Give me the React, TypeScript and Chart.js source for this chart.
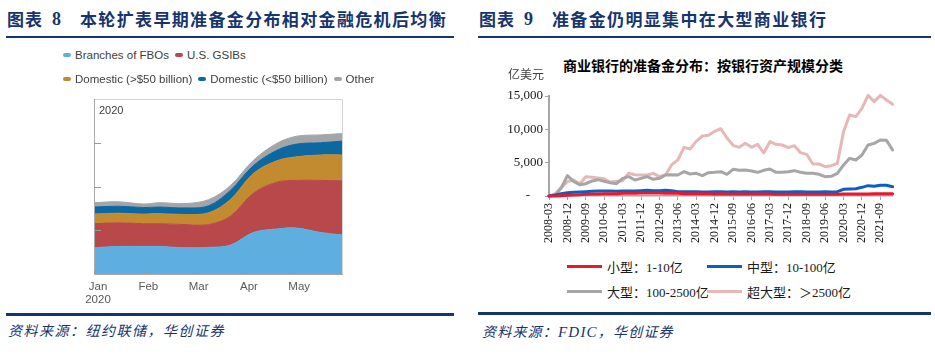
import React, { useEffect, useRef } from 'react';
import { Chart, registerables } from 'chart.js';

Chart.register(...registerables);

// ---------- Left chart (图表 8) data ----------
const leftMonthPos = [0, 0.48, 0.98, 1.31, 1.81, 2.28, 2.71, 3.17, 3.64, 4.03, 4.5, 4.95];
const leftMonthTicks = [0, 1, 2, 3, 4];
const leftMonthLabels: (string | string[])[] = [['Jan', '2020'], 'Feb', 'Mar', 'Apr', 'May'];
const fboValues = [0.6, 0.63, 0.63, 0.63, 0.6, 0.61, 0.66, 0.95, 1.03, 1.05, 0.95, 0.89];
const gsibValues = [0.55, 0.54, 0.52, 0.52, 0.53, 0.52, 0.66, 0.9, 1.07, 1.09, 1.19, 1.24];
const domLargeValues = [0.22, 0.22, 0.22, 0.23, 0.23, 0.27, 0.38, 0.45, 0.49, 0.54, 0.58, 0.59];
const domSmallValues = [0.16, 0.16, 0.15, 0.15, 0.15, 0.16, 0.21, 0.18, 0.24, 0.29, 0.28, 0.32];
const otherValues = [0.1, 0.1, 0.08, 0.1, 0.1, 0.14, 0.11, 0.12, 0.16, 0.18, 0.18, 0.17];
const leftSeriesNames = ['Branches of FBOs', 'U.S. GSIBs', 'Domestic (>$50 billion)', 'Domestic (<$50 billion)', 'Other'];
const leftSeriesColors = ['#5eaee0', '#b8484a', '#c28b30', '#0c68a0', '#a4a5a9'];

// ---------- Right chart (图表 9) data ----------
const quarters = [
  '2008-03', '2008-06', '2008-09', '2008-12', '2009-03', '2009-06', '2009-09', '2009-12',
  '2010-03', '2010-06', '2010-09', '2010-12', '2011-03', '2011-06', '2011-09', '2011-12',
  '2012-03', '2012-06', '2012-09', '2012-12', '2013-03', '2013-06', '2013-09', '2013-12',
  '2014-03', '2014-06', '2014-09', '2014-12', '2015-03', '2015-06', '2015-09', '2015-12',
  '2016-03', '2016-06', '2016-09', '2016-12', '2017-03', '2017-06', '2017-09', '2017-12',
  '2018-03', '2018-06', '2018-09', '2018-12', '2019-03', '2019-06', '2019-09', '2019-12',
  '2020-03', '2020-06', '2020-09', '2020-12', '2021-03', '2021-06', '2021-09', '2021-12',
  '2022-03',
];
const smallBanks = [
  0, 0, 50, 100, 150, 200, 250, 300, 300, 350, 350, 350, 400, 400, 400, 450,
  450, 450, 450, 400, 400, 400, 350, 350, 350, 350, 350, 300, 350, 300, 300, 300,
  300, 300, 300, 300, 300, 250, 250, 250, 250, 250, 250, 250, 250, 250, 250, 250,
  300, 300, 300, 300, 300, 350, 350, 350, 350,
];
const midBanks = [
  0, 150, 350, 500, 550, 600, 650, 700, 750, 750, 750, 700, 750, 750, 750, 800,
  850, 800, 800, 850, 800, 650, 650, 650, 650, 600, 600, 650, 650, 600, 650, 600,
  650, 600, 600, 650, 650, 600, 600, 600, 650, 650, 600, 600, 600, 650, 600, 650,
  1000, 1050, 1100, 1300, 1550, 1450, 1600, 1600, 1400,
];
const largeBanks = [
  0, 150, 1200, 3050, 2200, 1700, 1850, 2250, 2450, 2200, 2000, 1850, 2650, 2900, 2400, 2650,
  2900, 2500, 2650, 3150, 3200, 3150, 3650, 3300, 3400, 3050, 3500, 3550, 3650, 3250, 4000, 3850,
  3900, 3750, 3550, 3850, 4050, 3550, 3550, 3650, 3800, 3550, 3400, 3400, 3250, 2900, 2950, 3400,
  4650, 5650, 5400, 6150, 7650, 7900, 8400, 8350, 6900,
];
const superLargeBanks = [
  0, 300, 1300, 2150, 2400, 1800, 2900, 2800, 2700, 2600, 2050, 2200, 2300, 3400, 3200, 3150,
  3150, 3400, 2900, 3200, 4700, 5400, 7300, 7050, 8200, 9000, 9100, 9700, 10100, 8700, 7600, 7300,
  7900, 7300, 7750, 6450, 8150, 7750, 7650, 7250, 7550, 6500, 6250, 4800, 4800, 4400, 4550, 4900,
  9650, 12150, 11900, 13150, 15100, 14150, 15100, 14400, 13750,
];
const rightSeriesNames = ['小型：1-10亿', '中型：10-100亿', '大型：100-2500亿', '超大型：＞2500亿'];
const rightSeriesColors = ['#e8192c', '#0a5fc2', '#a6a6a6', '#e6b8b7'];

const NAVY = '#17356d';
const CJK = "'Noto Sans CJK SC', 'Noto Sans', sans-serif";
const SERIF = "'Liberation Serif', 'Times New Roman', 'Noto Sans CJK SC', serif";
const SANS = "'Liberation Sans', Arial, sans-serif";

function LeftChart() {
  const ref = useRef<HTMLCanvasElement>(null);
  useEffect(() => {
    if (!ref.current) return;
    const series = [fboValues, gsibValues, domLargeValues, domSmallValues, otherValues];
    const frame = {
      id: 'frame',
      afterDatasetsDraw(chart: any) {
        const { ctx, chartArea: a, scales } = chart;
        ctx.save();
        ctx.lineWidth = 1;
        ctx.strokeStyle = '#d4d4d4';
        ctx.beginPath();
        ctx.moveTo(a.left, a.top + 0.5);
        ctx.lineTo(a.right - 0.5, a.top + 0.5);
        ctx.lineTo(a.right - 0.5, a.bottom);
        ctx.stroke();
        ctx.strokeStyle = '#a9a9a9';
        ctx.beginPath();
        ctx.moveTo(a.left + 0.5, a.top);
        ctx.lineTo(a.left + 0.5, a.bottom + 0.5);
        ctx.lineTo(a.right, a.bottom + 0.5);
        ctx.stroke();
        ctx.strokeStyle = '#9a9a9a';
        [1, 2, 3].forEach((v) => {
          const y = Math.round(scales.y.getPixelForValue(v)) + 0.5;
          ctx.beginPath();
          ctx.moveTo(a.left, y);
          ctx.lineTo(a.left + 7, y);
          ctx.stroke();
        });
        leftMonthTicks.forEach((v) => {
          const x = Math.round(scales.x.getPixelForValue(v)) + 0.5;
          ctx.beginPath();
          ctx.moveTo(x, a.bottom);
          ctx.lineTo(x, a.bottom - 3);
          ctx.stroke();
        });
        ctx.restore();
      },
    };
    const chart = new Chart(ref.current, {
      type: 'line',
      data: {
        datasets: series.map((vals, k) => ({
          label: leftSeriesNames[k],
          data: vals.map((v, i) => ({ x: leftMonthPos[i], y: v })),
          backgroundColor: leftSeriesColors[k],
          borderColor: leftSeriesColors[k],
          borderWidth: 1,
          pointRadius: 0,
          tension: 0.35,
          fill: k === 0 ? 'origin' : '-1',
        })),
      },
      options: {
        responsive: false,
        animation: false,
        layout: { padding: { left: 94, right: 117, top: 9, bottom: 8 } },
        plugins: { legend: { display: false }, tooltip: { enabled: false } },
        scales: {
          x: {
            type: 'linear',
            min: 0,
            max: 4.95,
            grid: { display: false, drawTicks: false },
            border: { display: false },
            afterBuildTicks: (scale: any) => {
              scale.ticks = leftMonthTicks.map((v) => ({ value: v }));
            },
            afterFit: (scale: any) => {
              scale.height = 38;
            },
            ticks: {
              autoSkip: false,
              maxRotation: 0,
              minRotation: 0,
              padding: 6,
              labelOffset: 4,
              color: '#595959',
              font: { family: SANS, size: 11.5, lineHeight: 1.15 },
              callback: (v: any) => leftMonthLabels[leftMonthTicks.indexOf(Number(v))] ?? '',
            },
          },
          y: {
            stacked: true,
            display: false,
            min: 0,
            max: 4,
          },
        },
      } as any,
      plugins: [frame],
    });
    return () => chart.destroy();
  }, []);
  return (
    <canvas
      ref={ref}
      width={460}
      height={230}
      style={{ position: 'absolute', left: 0, top: 90, width: 460, height: 230 }}
    />
  );
}

function RightChart() {
  const ref = useRef<HTMLCanvasElement>(null);
  useEffect(() => {
    if (!ref.current) return;
    const series = [smallBanks, midBanks, largeBanks, superLargeBanks];
    const chart = new Chart(ref.current, {
      type: 'line',
      data: {
        labels: quarters,
        datasets: series.map((vals, k) => ({
          label: rightSeriesNames[k],
          data: vals,
          borderColor: rightSeriesColors[k],
          backgroundColor: rightSeriesColors[k],
          borderWidth: 3,
          pointRadius: 0,
          tension: 0,
          fill: false,
          clip: false,
          borderJoinStyle: 'round',
          borderCapStyle: 'round',
        })),
      },
      options: {
        responsive: false,
        animation: false,
        layout: { padding: { left: 0, right: 13, top: 10, bottom: 5 } },
        plugins: { legend: { display: false }, tooltip: { enabled: false } },
        scales: {
          x: {
            type: 'category',
            offset: false,
            grid: {
              drawOnChartArea: false,
              drawTicks: true,
              tickLength: 4,
              color: (c: any) => (c.index % 3 === 0 ? '#a6a6a6' : 'rgba(0,0,0,0)'),
            },
            border: { display: true, color: '#a6a6a6', width: 1.5 },
            afterFit: (scale: any) => {
              scale.height = 50;
            },
            ticks: {
              autoSkip: false,
              maxRotation: 90,
              minRotation: 90,
              padding: 3,
              color: '#1a1a1a',
              font: { family: SERIF, size: 12 },
              callback: (_v: any, i: number) => (i % 3 === 0 ? quarters[i] : ''),
            },
          },
          y: {
            min: 0,
            max: 15000,
            grid: { drawOnChartArea: false, drawTicks: true, tickLength: 4, color: '#a6a6a6' },
            border: { display: true, color: '#a6a6a6', width: 2 },
            afterFit: (scale: any) => {
              scale.width = 79;
            },
            ticks: {
              stepSize: 5000,
              padding: 2,
              color: '#1a1a1a',
              font: { family: SERIF, size: 13 },
              callback: (v: any) => (Number(v) === 0 ? '-    ' : Number(v).toLocaleString('en-US')),
            },
          },
        },
      } as any,
    });
    return () => chart.destroy();
  }, []);
  return (
    <canvas
      ref={ref}
      width={440}
      height={165}
      style={{ position: 'absolute', left: 470, top: 86, width: 440, height: 165 }}
    />
  );
}

function FigureTitle({ left, num, text }: { left: number; num: string; text: string }) {
  const base: React.CSSProperties = {
    position: 'absolute',
    top: 8,
    height: 22,
    lineHeight: '22px',
    color: NAVY,
    fontWeight: 700,
    whiteSpace: 'nowrap',
  };
  return (
    <>
      <div style={{ ...base, left, fontFamily: CJK, fontSize: 17, letterSpacing: 1 }}>图表</div>
      <div style={{ ...base, left: left + 45, fontFamily: SERIF, fontSize: 18 }}>{num}</div>
      <div style={{ ...base, left: left + 73, fontFamily: CJK, fontSize: 17, letterSpacing: 1.35 }}>{text}</div>
    </>
  );
}

export default function App() {
  const leftRows = [[0, 1], [2, 3, 4]];
  return (
    <div
      style={{
        position: 'fixed',
        left: 0,
        top: 0,
        width: 935,
        height: 354,
        background: '#ffffff',
        overflow: 'hidden',
      }}
    >
      <LeftChart />
      <RightChart />

      <FigureTitle left={7} num="8" text="本轮扩表早期准备金分布相对金融危机后均衡" />
      <FigureTitle left={479} num="9" text="准备金仍明显集中在大型商业银行" />

      <div style={{ position: 'absolute', left: 6, top: 36, width: 448, height: 2, background: NAVY }} />
      <div style={{ position: 'absolute', left: 478, top: 36, width: 453, height: 2, background: NAVY }} />
      <div style={{ position: 'absolute', left: 6, top: 313, width: 448, height: 2.5, background: NAVY }} />
      <div style={{ position: 'absolute', left: 478, top: 312, width: 453, height: 2.5, background: NAVY }} />

      {leftRows.map((row, r) => (
        <div
          key={r}
          style={{
            position: 'absolute',
            left: 63,
            top: r === 0 ? 48 : 72,
            height: 14,
            display: 'flex',
            alignItems: 'center',
            whiteSpace: 'nowrap',
            fontFamily: SANS,
            fontSize: 11.5,
            color: '#404040',
          }}
        >
          {row.map((k) => (
            <span key={k} style={{ display: 'inline-flex', alignItems: 'center', marginRight: 6 }}>
              <span
                style={{
                  display: 'inline-block',
                  width: 8,
                  height: 4,
                  borderRadius: 2,
                  background: leftSeriesColors[k],
                  marginRight: 4,
                }}
              />
              {leftSeriesNames[k]}
            </span>
          ))}
        </div>
      ))}
      <div
        style={{
          position: 'absolute',
          left: 99,
          top: 103,
          fontFamily: SANS,
          fontSize: 11,
          color: '#404040',
          lineHeight: '14px',
        }}
      >
        2020
      </div>

      <div
        style={{
          position: 'absolute',
          left: 563,
          width: 280,
          top: 56,
          textAlign: 'center',
          fontFamily: CJK,
          fontWeight: 700,
          fontSize: 14,
          lineHeight: '18px',
          color: '#000',
          whiteSpace: 'nowrap',
        }}
      >
        商业银行的准备金分布：按银行资产规模分类
      </div>
      <div
        style={{
          position: 'absolute',
          left: 508,
          top: 67,
          fontFamily: SERIF,
          fontSize: 12,
          lineHeight: '16px',
          color: '#404040',
        }}
      >
        亿美元
      </div>

      {rightSeriesNames.map((name, k) => (
        <div
          key={k}
          style={{
            position: 'absolute',
            left: k % 2 === 0 ? 567 : 707,
            top: k < 2 ? 258 : 283,
            height: 16,
            display: 'flex',
            alignItems: 'center',
            whiteSpace: 'nowrap',
            fontFamily: SERIF,
            fontSize: 13,
            color: '#1a1a1a',
          }}
        >
          <span
            style={{ display: 'inline-block', width: 35, height: 3, background: rightSeriesColors[k], marginRight: 5 }}
          />
          {name}
        </div>
      ))}

      <div
        style={{
          position: 'absolute',
          left: 8,
          top: 321,
          fontFamily: CJK,
          fontStyle: 'italic',
          fontSize: 14,
          lineHeight: '18px',
          color: NAVY,
          letterSpacing: 1.5,
          whiteSpace: 'nowrap',
        }}
      >
        资料来源：纽约联储，华创证券
      </div>
      <div
        style={{
          position: 'absolute',
          left: 482,
          top: 322,
          fontFamily: CJK,
          fontStyle: 'italic',
          fontSize: 14,
          lineHeight: '18px',
          color: NAVY,
          letterSpacing: 1.2,
          whiteSpace: 'nowrap',
        }}
      >
        资料来源：<span style={{ fontFamily: SERIF, fontSize: 15 }}>FDIC</span>，华创证券
      </div>
    </div>
  );
}
